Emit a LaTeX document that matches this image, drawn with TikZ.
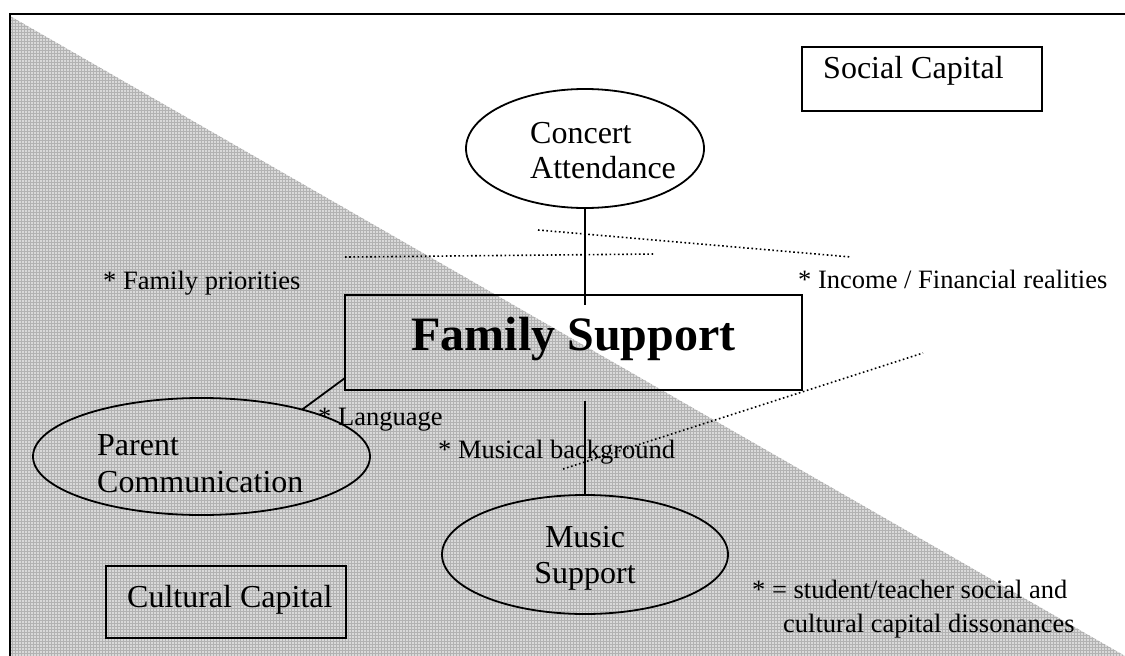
\documentclass[tikz,border=0pt]{standalone}
\usepackage{fontspec}
\setmainfont{Liberation Serif}
\usetikzlibrary{shapes.geometric,patterns,calc}
\begin{document}
\begin{tikzpicture}[x=1pt,y=-1pt,
  box/.style={draw, line width=1.8pt, rectangle, inner sep=0pt, outer sep=0pt},
  oval/.style={draw, line width=1.8pt, ellipse, inner sep=0pt, outer sep=0pt},
  lbl/.style={anchor=base west, inner sep=0pt, font=\fontsize{32}{36}\selectfont},
  lblc/.style={anchor=base, inner sep=0pt, font=\fontsize{32}{36}\selectfont},
  note/.style={anchor=base west, inner sep=0pt, font=\fontsize{26.5}{32}\selectfont},
  conn/.style={line width=1.8pt},
  dots/.style={line width=1.6pt, dash pattern=on 1.6pt off 2.6pt},
]
\useasboundingbox (0,0) rectangle (1125,656);
% shaded triangle
\fill[black!15] (10,16) -- (10,656) -- (1125,656) -- cycle;
\fill[pattern=grid, pattern color=black!30] (10,16) -- (10,656) -- (1125,656) -- cycle;
% frame
\draw[line width=2.5pt] (1125,14) -- (10,14) -- (10,656);

% boxes
\node[box, minimum width=240pt, minimum height=64pt] (soc) at (922,79) {};
\node[lbl] (soct) at (823,78) {Social Capital};
\node[box, minimum width=240pt, minimum height=72pt] (cul) at (226,602) {};
\node[lbl] (cult) at (127,607) {Cultural Capital};
\node[box, minimum width=457pt, minimum height=95pt, text depth=18pt,
      font=\fontsize{48}{52}\selectfont\bfseries] (fam) at (573.5,342.5) {Family Support};

% ellipses
\node[oval, minimum width=238pt, minimum height=119pt] (con) at (585,148.5) {};
\node[lbl] (cont1) at (530,143) {Concert};
\node[lbl] (cont2) at (530,178) {Attendance};
\node[oval, minimum width=337pt, minimum height=117pt] (par) at (201.5,456.5) {};
\node[lbl] (part1) at (97,455) {Parent};
\node[lbl] (part2) at (97,492) {Communication};
\node[oval, minimum width=286pt, minimum height=119pt] (mus) at (585,554.5) {};
\node[lblc] (must1) at (585,547) {Music};
\node[lblc] (must2) at (585,583) {Support};

% connectors
\coordinate (famtop) at ($(con.south |- fam.north)+(0,10)$);
\draw[conn] (con.south) -- (famtop);
\coordinate (fambot) at ($(mus.north |- fam.south)+(0,11)$);
\draw[conn] (fambot) -- (mus.north);
\coordinate (famleft) at ($(fam.south west)+(0,-12)$);
\draw[conn] (famleft) -- (par.25);

% dotted lines
\draw[dots] (345,257) -- (655,254);
\draw[dots] (538,230) -- (851,257);
\draw[dots] (563,469) -- (923,353);

% notes
\node[note] (n1) at (103,289) {* Family priorities};
\node[note] (n2) at (798,288) {* Income / Financial realities};
\node[note] (n3) at (318,425) {* Language};
\node[note] (n4) at (438,458) {* Musical background};
\node[note] (n5) at (752,598) {* = student/teacher social and};
\node[note] (n6) at (783,632) {cultural capital dissonances};
\end{tikzpicture}
\end{document}
